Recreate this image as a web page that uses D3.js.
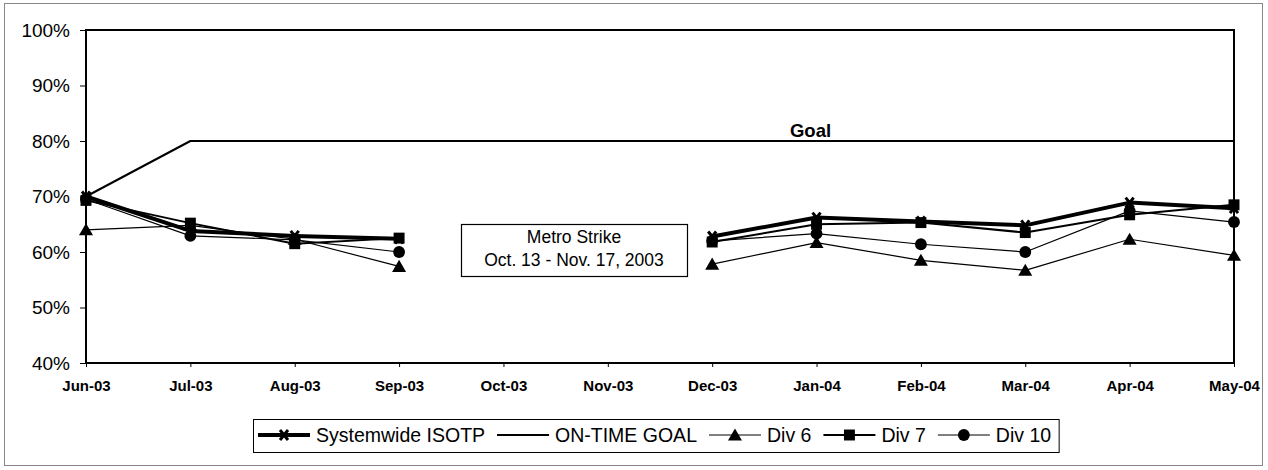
<!DOCTYPE html>
<html>
<head>
<meta charset="utf-8">
<script src="https://cdn.jsdelivr.net/npm/d3@7/dist/d3.min.js"></script>
<style>
  body { margin: 0; background: #fff; }
  svg { display: block; font-family: Arial, "Liberation Sans", sans-serif; }
</style>
</head>
<body>
<svg id="chart" width="1268" height="470"></svg>
<script>
const months = ["Jun-03", "Jul-03", "Aug-03", "Sep-03", "Oct-03", "Nov-03",
                "Dec-03", "Jan-04", "Feb-04", "Mar-04", "Apr-04", "May-04"];
const yTicks = [40, 50, 60, 70, 80, 90, 100];

// percent values, null = no data (strike)
const systemwide = [70.0, 63.8, 62.9, 62.4, null, null, 62.8, 66.2, 65.5, 64.8, 68.9, 67.9];
const goal       = [70, 80, 80, 80, 80, 80, 80, 80, 80, 80, 80, 80];
const div6       = [64.0, 64.8, 62.3, 57.4, null, null, 57.8, 61.7, 58.5, 56.7, 62.3, 59.4];
const div7       = [69.3, 65.2, 61.5, 62.5, null, null, 61.8, 65.0, 65.3, 63.5, 66.7, 68.5];
const div10      = [69.5, 62.9, 62.2, 60.0, null, null, 62.0, 63.3, 61.4, 60.0, 67.4, 65.4];

const series = [
  { name: "Systemwide ISOTP", values: systemwide, width: 4, marker: "x" },
  { name: "ON-TIME GOAL", values: goal, width: 2, marker: null },
  { name: "Div 6", values: div6, width: 1.2, marker: "triangle" },
  { name: "Div 7", values: div7, width: 2, marker: "square" },
  { name: "Div 10", values: div10, width: 1.2, marker: "circle" }
];

const svg = d3.select("#chart");
const plotL = 86, plotR = 1234, plotT = 30, plotB = 363;

const x = d3.scalePoint().domain(months).range([plotL, plotR]);
const y = d3.scaleLinear().domain([40, 100]).range([plotB, plotT]);

// outer chart frame
svg.append("rect")
  .attr("x", 4.5).attr("y", 3.5).attr("width", 1258).attr("height", 462)
  .attr("fill", "none").attr("stroke", "#888").attr("stroke-width", 1);

// axes
const yAxis = svg.append("g")
  .attr("transform", `translate(${plotL},0)`)
  .call(d3.axisLeft(y).tickValues(yTicks).tickFormat(d => d + "%").tickSize(6).tickPadding(10));
yAxis.select(".domain").remove();
yAxis.selectAll("text").attr("font-size", 19).attr("fill", "#000").attr("font-family", "Arial, 'Liberation Sans', sans-serif");
yAxis.selectAll("line").attr("stroke", "#000");

const xAxis = svg.append("g")
  .attr("transform", `translate(0,${plotB})`)
  .call(d3.axisBottom(x).tickSize(4).tickPadding(13));
xAxis.select(".domain").remove();
xAxis.selectAll("text").attr("font-size", 15).attr("font-weight", "bold").attr("fill", "#000")
  .attr("font-family", "Arial, 'Liberation Sans', sans-serif");
xAxis.selectAll("line").attr("stroke", "#000");

// plot area border
svg.append("rect")
  .attr("x", plotL).attr("y", plotT).attr("width", plotR - plotL).attr("height", plotB - plotT)
  .attr("fill", "none").attr("stroke", "#000").attr("stroke-width", 2);

const markerPath = (type, size) => {
  const sym = { triangle: d3.symbolTriangle, square: d3.symbolSquare, circle: d3.symbolCircle }[type];
  return d3.symbol().type(sym).size(size)();
};

const drawMarker = (g, type, cx, cy) => {
  if (type === "x") {
    g.append("path")
      .attr("d", `M${cx - 4},${cy - 5}L${cx + 4},${cy + 5}M${cx + 4},${cy - 5}L${cx - 4},${cy + 5}`)
      .attr("stroke", "#000").attr("stroke-width", 3).attr("fill", "none");
    return;
  }
  const size = { triangle: 85, square: 120, circle: 110 }[type];
  g.append("path")
    .attr("d", markerPath(type, size))
    .attr("transform", `translate(${cx},${cy + (type === "triangle" ? 1.5 : 0)})`)
    .attr("fill", "#000");
};

const line = d3.line()
  .defined(d => d.v !== null)
  .x(d => x(d.m))
  .y(d => y(d.v));

// draw thin series first so the thick systemwide line sits on top
const drawOrder = [1, 2, 4, 3, 0];
drawOrder.forEach(i => {
  const s = series[i];
  const pts = s.values.map((v, j) => ({ m: months[j], v: v }));
  const g = svg.append("g");
  g.append("path")
    .datum(pts)
    .attr("d", line)
    .attr("fill", "none")
    .attr("stroke", "#000")
    .attr("stroke-width", s.width)
    .attr("stroke-linejoin", "round");
  if (s.marker) {
    pts.filter(d => d.v !== null).forEach(d => drawMarker(g, s.marker, x(d.m), y(d.v)));
  }
});

// goal label
svg.append("text")
  .attr("x", x("Jan-04") - 6).attr("y", y(80) - 4)
  .attr("text-anchor", "middle")
  .attr("font-size", 18.5).attr("font-weight", "bold")
  .text("Goal");

// strike annotation
const note = svg.append("g");
note.append("rect")
  .attr("x", 461.5).attr("y", 224.5).attr("width", 226).attr("height", 52)
  .attr("fill", "#fff").attr("stroke", "#000").attr("stroke-width", 1.2);
note.append("text")
  .attr("x", 574).attr("y", 243).attr("text-anchor", "middle").attr("font-size", 17.5)
  .text("Metro Strike");
note.append("text")
  .attr("x", 574).attr("y", 266).attr("text-anchor", "middle").attr("font-size", 17.5)
  .text("Oct. 13 - Nov. 17, 2003");

// legend
const legend = svg.append("g");
const legendBox = legend.append("rect")
  .attr("y", 419.5).attr("height", 33)
  .attr("fill", "#fff").attr("stroke", "#000").attr("stroke-width", 1);

let lx = 258;
const ly = 435;
series.forEach(s => {
  legend.append("line")
    .attr("x1", lx).attr("x2", lx + 52).attr("y1", ly).attr("y2", ly)
    .attr("stroke", "#000").attr("stroke-width", s.width);
  if (s.marker) drawMarker(legend, s.marker, lx + 26, ly);
  const t = legend.append("text")
    .attr("x", lx + 58).attr("y", ly + 7)
    .attr("font-size", 19.5)
    .text(s.name);
  lx += 58 + t.node().getComputedTextLength() + 12;
});
legendBox.attr("x", 253.5).attr("width", lx - 12 + 8 - 253.5);
</script>
</body>
</html>
